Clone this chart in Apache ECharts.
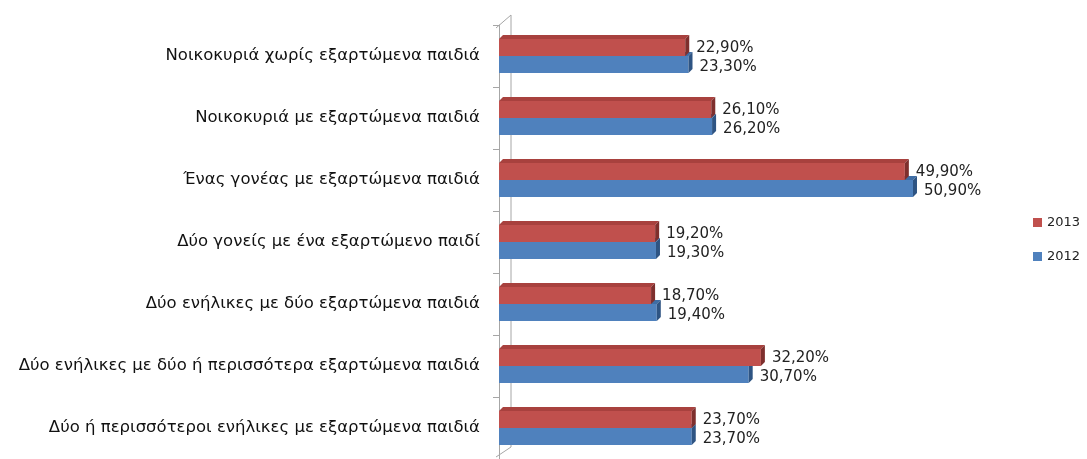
<!DOCTYPE html>
<html><head><meta charset="utf-8">
<script src="https://cdn.jsdelivr.net/npm/echarts@6/dist/echarts.min.js"></script>
<style>html,body{margin:0;padding:0;background:#fff}#c{width:1087px;height:459px}</style>
</head><body><div id="c"></div>
<script>
const categories = [
  'Νοικοκυριά χωρίς εξαρτώμενα παιδιά',
  'Νοικοκυριά με εξαρτώμενα παιδιά',
  'Ένας γονέας με εξαρτώμενα παιδιά',
  'Δύο γονείς με ένα εξαρτώμενο παιδί',
  'Δύο ενήλικες με δύο εξαρτώμενα παιδιά',
  'Δύο ενήλικες με δύο ή περισσότερα εξαρτώμενα παιδιά',
  'Δύο ή περισσότεροι ενήλικες με εξαρτώμενα παιδιά'
];
const values2013 = [22.9, 26.1, 49.9, 19.2, 18.7, 32.2, 23.7];
const values2012 = [23.3, 26.2, 50.9, 19.3, 19.4, 30.7, 23.7];
const seriesNames = ['2013', '2012'];

const FONT = 'DejaVu Sans';
const BAR_H = 17, D = 4;
const faces = {
  '2013': {front: '#C0504D', top: '#A8413E', side: '#7E2F2D'},
  '2012': {front: '#4F81BD', top: '#3E6DA5', side: '#2E5483'}
};
function fmt(v){ return v.toFixed(2).replace('.', ',') + '%'; }

function makeRender(name, upper){
  return function(params, api){
    const cat = api.value(0), v = api.value(1);
    const s = api.coord([0, cat]), e = api.coord([v, cat]);
    const x0 = s[0], x1 = e[0];
    const y0 = upper ? s[1] - BAR_H : s[1];
    const h = BAR_H, f = faces[name];
    return {
      type: 'group',
      children: [
        {type:'polygon', shape:{points:[[x0,y0],[x1,y0],[x1+D,y0-D],[x0+D,y0-D]]}, style:{fill:f.top}},
        {type:'rect', shape:{x:x0, y:y0, width:x1-x0, height:h}, style:{fill:f.front}},
        {type:'polygon', shape:{points:[[x1,y0],[x1+D,y0-D],[x1+D,y0+h-D],[x1,y0+h]]}, style:{fill:f.side}},
        {type:'text', x: x1 + D + 7, y: y0 + h/2 + (upper ? 1 : 3),
         style:{text: fmt(v), fill:'#222', font: '15px "' + FONT + '"', verticalAlign:'middle', align:'left'}}
      ]
    };
  };
}

const chart = echarts.init(document.getElementById('c'));
chart.setOption({
  animation: false,
  grid: {left: 499, top: 25, height: 434, width: 488},
  legend: {
    orient: 'vertical', left: 1028, top: 211, itemWidth: 9, itemHeight: 9, itemGap: 21,
    icon: 'rect', data: seriesNames,
    textStyle: {fontFamily: FONT, fontSize: 13, color: '#222'}
  },
  xAxis: {type: 'value', min: 0, max: 60, show: false},
  yAxis: {
    type: 'category', data: categories, inverse: true, offset: 3,
    axisLine: {show: true, lineStyle: {color: '#A6A6A6'}},
    axisTick: {show: true, length: 6, lineStyle: {color: '#A6A6A6'}},
    axisLabel: {fontFamily: FONT, fontSize: 16.5, color: '#111', margin: 16, padding: [8, 0, 0, 0]}
  },
  series: [
    {name: '2012', type: 'custom', z: 2, itemStyle: {color: '#4F81BD'},
     renderItem: makeRender('2012', false),
     data: values2012.map((v, i) => [i, v]), encode: {y: 0, x: 1}},
    {name: '2013', type: 'custom', z: 3, itemStyle: {color: '#C0504D'},
     renderItem: makeRender('2013', true),
     data: values2013.map((v, i) => [i, v]), encode: {y: 0, x: 1}}
  ]
});
const rect = chart.getModel().getComponent('grid').coordinateSystem.getRect();
const ax = rect.x - 3, bx = rect.x + 12;
chart.setOption({
  graphic: [{
    type: 'polyline', silent: true, z: 0,
    shape: {points: [[ax, rect.y + 3], [bx, rect.y - 10], [bx, rect.y + rect.height - 12], [ax, rect.y + rect.height - 2]]},
    style: {stroke: '#A6A6A6', lineWidth: 1, fill: null}
  }]
});
</script></body></html>
